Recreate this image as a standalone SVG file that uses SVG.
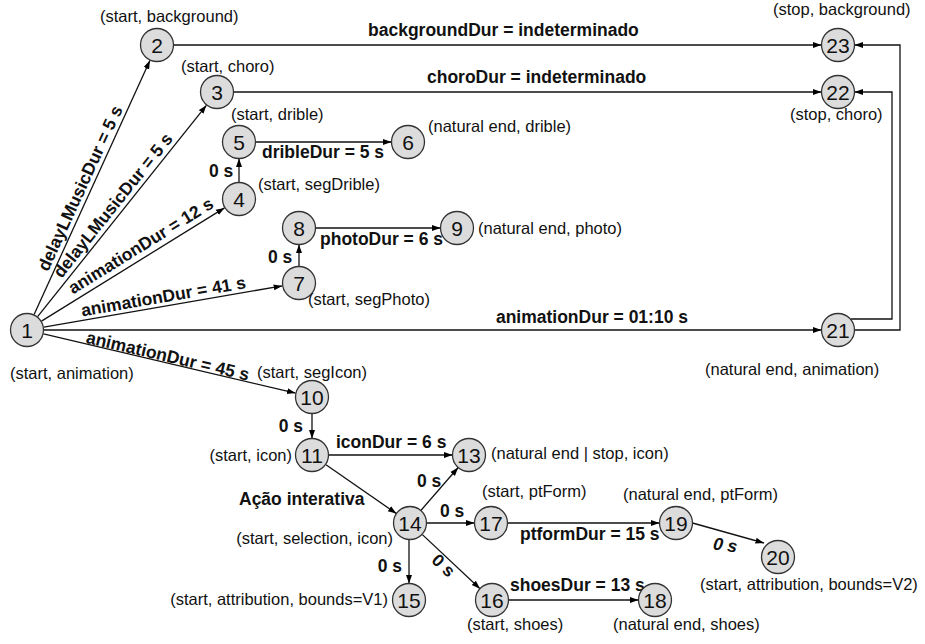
<svg xmlns="http://www.w3.org/2000/svg" width="925" height="644" viewBox="0 0 925 644">
<defs>
<marker id="arr" markerUnits="userSpaceOnUse" markerWidth="9" markerHeight="7" refX="8.5" refY="3.5" orient="auto">
<path d="M0,0.5 L8.5,3.5 L0,6.5 z" fill="#000"/>
</marker>
<style>
.c{fill:#dcdcdc;stroke:#333;stroke-width:1.3}
.n{font-family:"Liberation Sans",Arial,sans-serif;font-size:21px;text-anchor:middle;fill:#111}
.t{font-family:"Liberation Sans",Arial,sans-serif;font-size:16.5px;fill:#111}
.b{font-family:"Liberation Sans",Arial,sans-serif;font-size:17.5px;font-weight:bold;fill:#111}
.e{fill:none;stroke:#111;stroke-width:1.3;marker-end:url(#arr)}
.m{text-anchor:middle}
.r{text-anchor:end}
</style>
</defs>
<rect width="925" height="644" fill="#fff"/>
<g id="connectors">
<line class="e" x1="34.1" y1="314.5" x2="149.9" y2="60.6"/>
<line class="e" x1="37.6" y1="316.7" x2="206.4" y2="105.3"/>
<line class="e" x1="41.5" y1="321.1" x2="224.5" y2="207.9"/>
<line class="e" x1="43.8" y1="327.1" x2="282.2" y2="285.9"/>
<line class="e" x1="43.5" y1="333.9" x2="295.5" y2="393.1"/>
<line class="e" x1="44" y1="330" x2="821.5" y2="330"/>
<line class="e" x1="173.5" y1="45" x2="821.5" y2="45"/>
<line class="e" x1="233.5" y1="92" x2="821.5" y2="92"/>
<line class="e" x1="239" y1="182.5" x2="239" y2="158.5"/>
<line class="e" x1="255.5" y1="142" x2="391.5" y2="142"/>
<line class="e" x1="299" y1="266.5" x2="299" y2="244.5"/>
<line class="e" x1="315.5" y1="228" x2="440.5" y2="228"/>
<line class="e" x1="312" y1="413.5" x2="312" y2="438.5"/>
<line class="e" x1="328.5" y1="455" x2="452.5" y2="455"/>
<line class="e" x1="326" y1="464.7" x2="396.4" y2="513.6"/>
<line class="e" x1="421.1" y1="510.2" x2="458.2" y2="467.5"/>
<line class="e" x1="426.5" y1="523" x2="474.5" y2="523"/>
<line class="e" x1="409" y1="539.5" x2="409" y2="583.5"/>
<line class="e" x1="422.4" y1="534.6" x2="480" y2="588.7"/>
<line class="e" x1="507.5" y1="523" x2="659.5" y2="523"/>
<line class="e" x1="508.5" y1="600" x2="638.5" y2="600"/>
<line class="e" x1="692.5" y1="523" x2="764" y2="543"/>
<path class="e" d="M851,319 H892 V92 H854.5"/>
<path class="e" d="M854.5,330 H900 V45 H854.5"/>
<g id="edge-labels">
<text class="b m" transform="translate(90,192.8) rotate(-65.3)" y="-5">delayLMusicDur = 5 s</text>
<text class="b m" transform="translate(121.4,212.2) rotate(-51.3)" y="-5">delayLMusicDur = 5 s</text>
<text class="b m" transform="translate(147,255.9) rotate(-31.7)" y="-6">animationDur = 12 s</text>
<text class="b m" transform="translate(165,306.2) rotate(-9.8)" y="-4">animationDur = 41 s</text>
<text class="b m" transform="translate(166.2,362.7) rotate(13.2)" y="-1">animationDur = 45 s</text>
<text class="b" x="368" y="36">backgroundDur = indeterminado</text>
<text class="b" x="427" y="83">choroDur = indeterminado</text>
<text class="b" x="262" y="158">dribleDur = 5 s</text>
<text class="b" x="209" y="177">0 s</text>
<text class="b" x="320" y="245">photoDur = 6 s</text>
<text class="b" x="268" y="263">0 s</text>
<text class="b r" x="688" y="323">animationDur = 01:10 s</text>
<text class="b r" x="303" y="432">0 s</text>
<text class="b" x="336" y="448">iconDur = 6 s</text>
<text class="b" x="417" y="487">0 s</text>
<text class="b" x="239" y="505">Ação interativa</text>
<text class="b" x="440" y="517">0 s</text>
<text class="b r" x="402" y="572">0 s</text>
<text class="b m" transform="translate(449,559.6) rotate(43.2)" y="14">0 s</text>
<text class="b" x="520" y="540">ptformDur = 15 s</text>
<text class="b" x="510" y="591">shoesDur = 13 s</text>
<text class="b m" transform="translate(725,547) rotate(8)" y="4" font-style="italic">0 s</text>
</g>
</g>
<g id="node-1"><circle class="c" cx="27" cy="330" r="16.5"/><text class="n" x="27" y="337.5">1</text><text class="t" x="10" y="379">(start, animation)</text></g>
<g id="node-2"><circle class="c" cx="157" cy="45" r="16.5"/><text class="n" x="157" y="52.5">2</text><text class="t" x="100" y="22">(start, background)</text></g>
<g id="node-3"><circle class="c" cx="217" cy="92" r="16.5"/><text class="n" x="217" y="99.5">3</text><text class="t" x="181" y="72">(start, choro)</text></g>
<g id="node-4"><circle class="c" cx="239" cy="199" r="16.5"/><text class="n" x="239" y="206.5">4</text><text class="t" x="258" y="190">(start, segDrible)</text></g>
<g id="node-5"><circle class="c" cx="239" cy="142" r="16.5"/><text class="n" x="239" y="149.5">5</text><text class="t" x="231" y="120">(start, drible)</text></g>
<g id="node-6"><circle class="c" cx="408" cy="142" r="16.5"/><text class="n" x="408" y="149.5">6</text><text class="t" x="428" y="132">(natural end, drible)</text></g>
<g id="node-7"><circle class="c" cx="299" cy="283" r="16.5"/><text class="n" x="299" y="290.5">7</text><text class="t" x="308" y="305">(start, segPhoto)</text></g>
<g id="node-8"><circle class="c" cx="299" cy="228" r="16.5"/><text class="n" x="299" y="235.5">8</text></g>
<g id="node-9"><circle class="c" cx="457" cy="228" r="16.5"/><text class="n" x="457" y="235.5">9</text><text class="t" x="478" y="234">(natural end, photo)</text></g>
<g id="node-10"><circle class="c" cx="312" cy="397" r="16.5"/><text class="n" x="312" y="404.5">10</text><text class="t" x="257" y="378">(start, segIcon)</text></g>
<g id="node-11"><circle class="c" cx="312" cy="455" r="16.5"/><text class="n" x="312" y="462.5">11</text><text class="t r" x="292" y="461">(start, icon)</text></g>
<g id="node-13"><circle class="c" cx="469" cy="455" r="16.5"/><text class="n" x="469" y="462.5">13</text><text class="t" x="491" y="459">(natural end | stop, icon)</text></g>
<g id="node-14"><circle class="c" cx="410" cy="523" r="16.5"/><text class="n" x="410" y="530.5">14</text><text class="t r" x="393" y="544">(start, selection, icon)</text></g>
<g id="node-15"><circle class="c" cx="409" cy="600" r="16.5"/><text class="n" x="409" y="607.5">15</text><text class="t r" x="388" y="605">(start, attribution, bounds=V1)</text></g>
<g id="node-16"><circle class="c" cx="492" cy="600" r="16.5"/><text class="n" x="492" y="607.5">16</text><text class="t" x="467" y="630">(start, shoes)</text></g>
<g id="node-17"><circle class="c" cx="491" cy="523" r="16.5"/><text class="n" x="491" y="530.5">17</text><text class="t" x="482" y="497">(start, ptForm)</text></g>
<g id="node-18"><circle class="c" cx="655" cy="600" r="16.5"/><text class="n" x="655" y="607.5">18</text><text class="t" x="613" y="630">(natural end, shoes)</text></g>
<g id="node-19"><circle class="c" cx="676" cy="523" r="16.5"/><text class="n" x="676" y="530.5">19</text><text class="t" x="623" y="500">(natural end, ptForm)</text></g>
<g id="node-20"><circle class="c" cx="778" cy="557" r="16.5"/><text class="n" x="778" y="564.5">20</text><text class="t" x="700" y="590">(start, attribution, bounds=V2)</text></g>
<g id="node-21"><circle class="c" cx="838" cy="330" r="16.5"/><text class="n" x="838" y="337.5">21</text><text class="t" x="705" y="375">(natural end, animation)</text></g>
<g id="node-22"><circle class="c" cx="838" cy="92" r="16.5"/><text class="n" x="838" y="99.5">22</text><text class="t" x="790" y="120">(stop, choro)</text></g>
<g id="node-23"><circle class="c" cx="838" cy="45" r="16.5"/><text class="n" x="838" y="52.5">23</text><text class="t" x="773" y="15">(stop, background)</text></g>
</svg>
